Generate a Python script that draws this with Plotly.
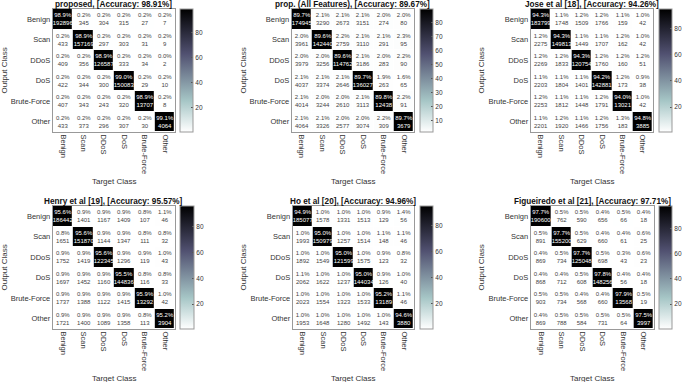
import plotly.graph_objects as go

classes = ["Benign", "Scan", "DDoS", "DoS", "Brute-Force", "Other"]

titles = [
    "proposed, [Accuracy: 98.91%]",
    "prop. (All Features), [Accuracy: 89.67%]",
    "Jose et al [18], [Accuracy: 94.26%]",
    "Henry et al [19], [Accuracy: 95.57%]",
    "Ho et al [20], [Accuracy: 94.96%]",
    "Figueiredo et al [21], [Accuracy: 97.71%]",
]

# rows = Output Class, columns = Target Class
counts_proposed = [
    [192896, 345, 304, 315, 27, 7],
    [433, 157169, 297, 303, 31, 9],
    [409, 356, 126587, 333, 34, 2],
    [422, 344, 300, 150083, 29, 10],
    [407, 343, 243, 320, 13707, 8],
    [433, 373, 296, 307, 30, 4064],
]
counts_all_features = [
    [174945, 3290, 2673, 3151, 274, 80],
    [3961, 142440, 2759, 3110, 291, 95],
    [3979, 3256, 114762, 3186, 283, 90],
    [4037, 3374, 2646, 136027, 263, 65],
    [4014, 3244, 2610, 3113, 12438, 91],
    [4064, 3326, 2577, 3074, 309, 3679],
]
counts_jose = [
    [183799, 1748, 1509, 1766, 159, 42],
    [2275, 149813, 1449, 1707, 162, 42],
    [2269, 1833, 120754, 1760, 160, 51],
    [2203, 1804, 1401, 142881, 173, 38],
    [2253, 1812, 1448, 1791, 13021, 42],
    [2201, 1920, 1466, 1756, 183, 3885],
]
counts_henry = [
    [186442, 1401, 1167, 1409, 107, 46],
    [1651, 151870, 1144, 1347, 111, 32],
    [1752, 1419, 122345, 1296, 119, 43],
    [1697, 1452, 1160, 144836, 116, 33],
    [1737, 1388, 1122, 1415, 13292, 42],
    [1721, 1400, 1089, 1358, 113, 3904],
]
counts_ho = [
    [185077, 1578, 1331, 1513, 129, 56],
    [1993, 150979, 1257, 1514, 148, 46],
    [1892, 1549, 121599, 1575, 123, 32],
    [2062, 1622, 1237, 144034, 126, 40],
    [2023, 1554, 1323, 1533, 13189, 46],
    [1953, 1648, 1280, 1492, 143, 3880],
]
counts_figueiredo = [
    [190600, 762, 590, 656, 66, 18],
    [891, 155200, 629, 660, 61, 25],
    [869, 734, 125048, 698, 43, 23],
    [868, 712, 608, 148256, 56, 18],
    [903, 734, 568, 660, 13568, 19],
    [869, 788, 584, 731, 64, 3997],
]

all_counts = [counts_proposed, counts_all_features, counts_jose,
              counts_henry, counts_ho, counts_figueiredo]
colorbar_dtick = [20, 10, 20, 20, 20, 20]

W, H = 685, 382

# pixel boxes (x0, x1, y0, y1) of heatmaps; colorbar (x0, thickness)
hm_boxes = [(53, 176, 9, 132), (293, 416, 9, 132), (533, 656, 9, 132),
            (53, 176, 206, 329), (294, 416, 206, 329), (533, 657, 206, 329)]
cb_boxes = [(181, 13), (422, 13), (662, 13), (181, 14), (422, 13), (662, 13)]
out_lbl_x = [5, 245, 484, 5, 245, 484]

# reversed MATLAB "bone" colormap
bone_r = [
    [0.0, "rgb(255,255,255)"],
    [0.253968, "rgb(166,198,198)"],
    [0.634921, "rgb(81,81,113)"],
    [1.0, "rgb(0,0,0)"],
]

FONT = "Liberation Sans, Arial, sans-serif"
fig = go.Figure()
annotations = []
layout_axes = {}

for k, counts in enumerate(all_counts):
    n = len(classes)
    col_tot = [sum(counts[i][j] for i in range(n)) for j in range(n)]
    pct = [[counts[i][j] / col_tot[j] * 100 for j in range(n)] for i in range(n)]
    text = [[f"{pct[i][j]:.1f}%<br>{counts[i][j]}" for j in range(n)] for i in range(n)]
    zmin = min(min(r) for r in pct)
    zmax = max(max(r) for r in pct)

    x0, x1, y0, y1 = hm_boxes[k]
    cbx, cbt = cb_boxes[k]
    ax = "" if k == 0 else str(k + 1)
    fig.add_trace(go.Heatmap(
        z=pct, x=classes, y=classes, text=text, texttemplate="%{text}",
        textfont=dict(size=6, family=FONT),
        colorscale=bone_r, zmin=zmin, zmax=zmax, xgap=1, ygap=1,
        xaxis="x" + ax, yaxis="y" + ax, hoverinfo="skip",
        colorbar=dict(
            x=cbx / W, xanchor="left", xpad=0, ypad=0,
            y=1 - (y0 + y1) / 2 / H, yanchor="middle",
            len=(y1 - y0) / H, lenmode="fraction",
            thickness=cbt, thicknessmode="pixels",
            outlinecolor="#999999", outlinewidth=1,
            dtick=colorbar_dtick[k], tick0=0,
            ticks="inside", ticklen=2, tickcolor="#555555",
            tickfont=dict(size=6.5, family=FONT, color="#333333"),
        ),
    ))
    layout_axes["xaxis" + ax] = dict(
        domain=[x0 / W, x1 / W], anchor="y" + ax, tickangle=90,
        tickfont=dict(size=7.5, family=FONT, color="#333333"),
        showline=True, mirror=True, linecolor="#999999", linewidth=1,
        showgrid=False, zeroline=False, ticks="", fixedrange=True,
    )
    layout_axes["yaxis" + ax] = dict(
        domain=[1 - y1 / H, 1 - y0 / H], anchor="x" + ax, autorange="reversed",
        tickfont=dict(size=7.5, family=FONT, color="#333333"),
        showline=True, mirror=True, linecolor="#999999", linewidth=1,
        showgrid=False, zeroline=False, ticks="", fixedrange=True,
    )
    cx = (x0 + x1) / 2 / W
    annotations.append(dict(
        text=f"<b>{titles[k]}</b>", x=cx, y=1 - (y0 - 5) / H,
        xref="paper", yref="paper", showarrow=False,
        xanchor="center", yanchor="middle",
        font=dict(size=8.2, family=FONT, color="#111111"),
    ))
    annotations.append(dict(
        text="Target Class", x=cx, y=1 - (y1 + 49) / H,
        xref="paper", yref="paper", showarrow=False,
        xanchor="center", yanchor="middle",
        font=dict(size=8, family=FONT, color="#333333"),
    ))
    annotations.append(dict(
        text="Output Class", x=out_lbl_x[k] / W, y=1 - (y0 + y1) / 2 / H,
        xref="paper", yref="paper", showarrow=False, textangle=-90,
        xanchor="center", yanchor="middle",
        font=dict(size=8, family=FONT, color="#333333"),
    ))

fig.update_layout(
    width=W, height=H, margin=dict(l=0, r=0, t=0, b=0),
    paper_bgcolor="white", plot_bgcolor="white",
    showlegend=False, annotations=annotations, **layout_axes,
)

fig.write_html(
    "out.html",
    config={"displayModeBar": False},
    post_script="document.body.style.margin='0';document.body.style.overflow='hidden';",
)
